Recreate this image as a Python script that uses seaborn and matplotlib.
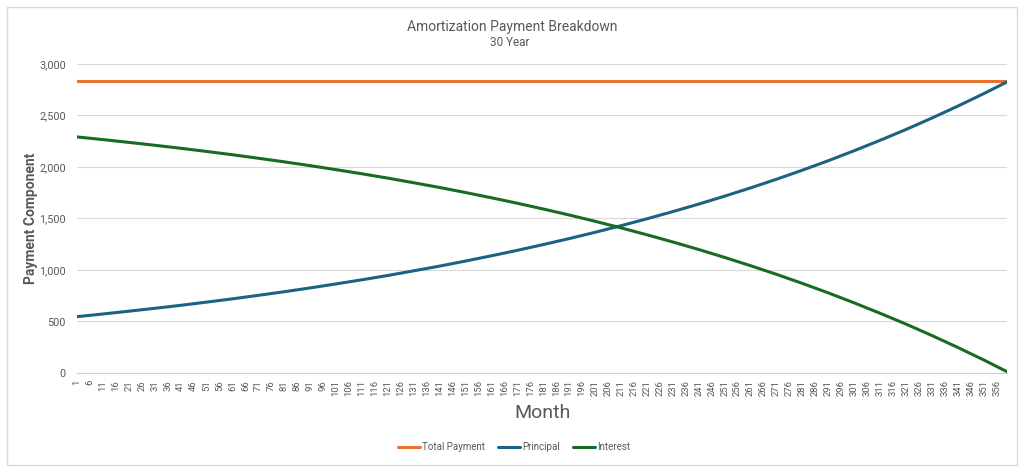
import matplotlib
matplotlib.use("Agg")
import matplotlib.pyplot as plt
import matplotlib.patches as mpatches
from matplotlib.ticker import FixedLocator, FuncFormatter
import seaborn as sns
import pandas as pd

months = [1, 11, 21, 31, 41, 51, 61, 71, 81, 91, 101, 111, 121, 131, 141, 151, 161, 171,
          181, 191, 201, 211, 221, 231, 241, 251, 261, 271, 281, 291, 301, 311, 321, 331,
          341, 351, 360]
total_payment = [2839, 2839, 2839, 2839, 2839, 2839, 2839, 2839, 2839, 2839, 2839, 2839,
                 2839, 2839, 2839, 2839, 2839, 2839, 2839, 2839, 2839, 2839, 2839, 2839,
                 2839, 2839, 2839, 2839, 2839, 2839, 2839, 2839, 2839, 2839, 2839, 2839, 2839]
principal = [547, 573, 600, 628, 657, 688, 720, 754, 789, 826, 865, 905, 947, 992, 1038,
             1087, 1138, 1191, 1247, 1305, 1366, 1430, 1497, 1567, 1640, 1717, 1797, 1881,
             1969, 2061, 2158, 2259, 2364, 2475, 2591, 2712, 2826]
interest = [2292, 2266, 2239, 2211, 2182, 2151, 2119, 2085, 2050, 2013, 1974, 1934, 1892,
            1847, 1801, 1752, 1701, 1648, 1592, 1534, 1473, 1409, 1342, 1272, 1199, 1122,
            1042, 958, 870, 778, 681, 580, 475, 364, 248, 127, 13]
series_names = ["Total Payment", "Principal", "Interest"]
series_colors = ["#E97132", "#1B6283", "#196B24"]
tick_months = list(range(1, 357, 5))

df = pd.concat([
    pd.DataFrame({"Month": months, "Value": total_payment, "Series": series_names[0]}),
    pd.DataFrame({"Month": months, "Value": principal, "Series": series_names[1]}),
    pd.DataFrame({"Month": months, "Value": interest, "Series": series_names[2]}),
])

sns.set_theme(style="white")
plt.rcParams["font.family"] = ["Roboto", "DejaVu Sans"]

fig = plt.figure(figsize=(10.24, 4.69), dpi=100)
ax = fig.add_axes([77 / 1024, 1 - 373 / 469, 930 / 1024, 309 / 469])

sns.lineplot(data=df, x="Month", y="Value", hue="Series", hue_order=series_names,
             palette=series_colors, linewidth=2.2, ax=ax, legend=False)

grey = "#595959"
ax.set_xlim(1, 360)
ax.set_ylim(0, 3000)
ax.set_yticks([0, 500, 1000, 1500, 2000, 2500, 3000])
ax.yaxis.set_major_formatter(FuncFormatter(lambda v, p: f"{int(v):,}"))
ax.yaxis.grid(True, color="#D9D9D9", linewidth=0.8)
ax.set_axisbelow(True)
ax.set_xticks(tick_months)
ax.set_xticklabels([str(m) for m in tick_months], rotation=90)
ax.xaxis.set_minor_locator(FixedLocator(range(1, 361)))
ax.tick_params(axis="x", which="major", labelsize=6.8, colors=grey, length=3,
               color="#D0D0D0", width=0.6, pad=2)
ax.tick_params(axis="x", which="minor", length=3, color="#D0D0D0", width=0.5)
ax.tick_params(axis="y", labelsize=7.8, colors=grey, length=0, pad=8)
for s in ["top", "right", "left"]:
    ax.spines[s].set_visible(False)
ax.spines["bottom"].set_color("#D0D0D0")
ax.spines["bottom"].set_linewidth(0.8)

ax.set_xlabel("Month", fontsize=14, color=grey, labelpad=6)
ax.set_ylabel("Payment Component", fontsize=10, fontweight="bold", color=grey, labelpad=1)

fig.text(512 / 1024, 1 - 27 / 469, "Amortization Payment Breakdown", ha="center",
         va="center", fontsize=10, color=grey)
fig.text(510 / 1024, 1 - 43 / 469, "30 Year", ha="center", va="center",
         fontsize=8.5, color=grey)

handles = [plt.Line2D([0], [0], color=c, linewidth=2.2) for c in series_colors]
fig.legend(handles, series_names, loc="center", bbox_to_anchor=(514 / 1024, 1 - 447 / 469),
           ncol=3, frameon=False, fontsize=7, labelcolor=grey, handlelength=2.3,
           handletextpad=0.2, columnspacing=1.3)

fig.patches.append(mpatches.Rectangle((7 / 1024, 1 - 465 / 469), 1010 / 1024, 458 / 469,
                                      transform=fig.transFigure, fill=False,
                                      edgecolor="#D9D9D9", linewidth=1))

fig.savefig("out.png", dpi=100)
